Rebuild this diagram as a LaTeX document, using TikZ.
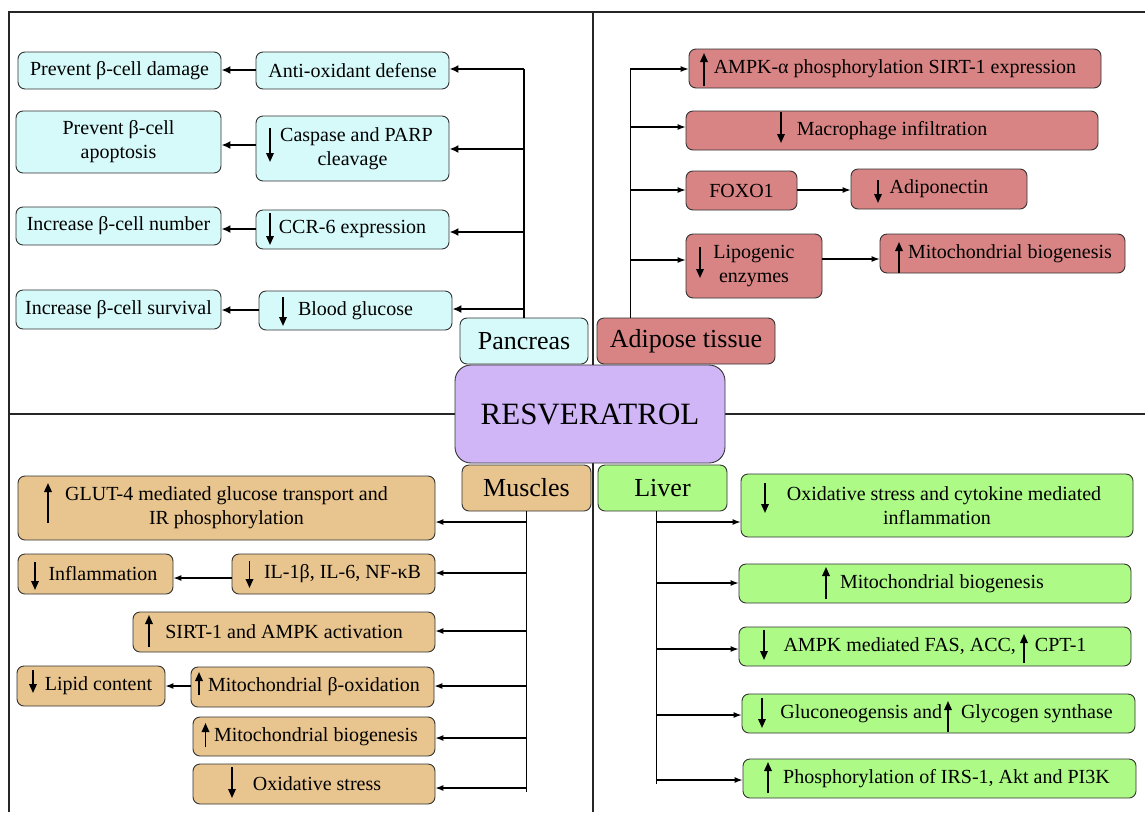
\documentclass[tikz,border=0pt]{standalone}
\usepackage{fontspec}
\setmainfont{Liberation Serif}
\usetikzlibrary{arrows.meta,calc}
\definecolor{cyanf}{RGB}{214,250,250}
\definecolor{adipf}{RGB}{217,132,132}
\definecolor{resvf}{RGB}{208,182,247}
\definecolor{musf}{RGB}{232,196,142}
\definecolor{livf}{RGB}{173,250,135}
\definecolor{edgec}{RGB}{50,50,50}
\tikzset{
  box/.style={draw=edgec, line width=0.9pt, rounded corners=7pt, inner sep=0pt,
    font=\fontsize{20}{24}\selectfont, align=center, text=black},
  pbox/.style={box, fill=cyanf},
  abox/.style={box, fill=adipf},
  mbox/.style={box, fill=musf},
  lbox/.style={box, fill=livf},
  lbl/.style={font=\fontsize{26}{30}\selectfont, rounded corners=7pt},
  icon/.style={line width=1.7pt, -{Triangle[length=9pt,width=7.5pt]}},
  pline/.style={line width=2pt},
  pconn/.style={line width=2pt, -{Latex[length=9pt,width=8pt]}},
  cline/.style={line width=1.1pt},
  conn/.style={line width=1.1pt, -{Latex[length=8pt,width=6pt]}},
  frame/.style={line width=1.6pt, draw=black!85},
}
\begin{document}
\begin{tikzpicture}[x=1pt,y=-1pt]
\useasboundingbox (0,0) rectangle (1145,812);
% frame
\draw[frame] (9,812) -- (9,12) -- (1145,12);
\draw[frame] (593,12) -- (593,812);
\draw[frame] (9,414) -- (1145,414);

% central nodes
\node[box, fill=resvf, rounded corners=16pt, font=\fontsize{31}{36}\selectfont, minimum width=270pt, minimum height=98pt] (resv) at (590,414) {RESVERATROL};
\node[pbox, lbl, minimum width=128pt, minimum height=46pt] (pan) at (524,341) {Pancreas};
\node[abox, lbl, minimum width=178pt, minimum height=46pt] (adip) at (686,341) {Adipose tissue};
\node[mbox, lbl, minimum width=129pt, minimum height=46pt] (mus) at (526.5,488) {Muscles};
\node[lbox, lbl, minimum width=129pt, minimum height=46pt] (liv) at (662.5,488) {Liver};

% pancreas
\node[pbox, minimum width=203pt, minimum height=37pt] (prevdmg) at (119.5,70.5) {Prevent β-cell damage};
\node[pbox, minimum width=193pt, minimum height=37pt] (antiox) at (352.5,70.5) {Anti-oxidant defense};
\node[pbox, minimum width=205pt, minimum height=62pt] (apop) at (118.5,142) {Prevent β-cell\\apoptosis};
\node[pbox, minimum width=193pt, minimum height=65pt] (casp) at (352.5,148.5) {\hspace*{8pt}Caspase and PARP\\cleavage};
\node[pbox, minimum width=205pt, minimum height=38pt] (number) at (118.5,226) {Increase β-cell number};
\node[pbox, minimum width=193pt, minimum height=39pt] (ccr) at (352.5,229.5) {CCR-6 expression};
\node[pbox, minimum width=205pt, minimum height=39pt] (survival) at (118.5,309.5) {Increase β-cell survival};
\node[pbox, minimum width=193pt, minimum height=39pt] (blood) at (355.5,310.5) {Blood glucose};

\draw[pline] (pan.north) -- (pan.north |- 0,69);
\draw[pconn] (pan.north |- 0,69) -- (antiox.east |- 0,69);
\draw[pconn] (pan.north |- 0,149) -- (casp.east |- 0,149);
\draw[pconn] (pan.north |- 0,232) -- (ccr.east |- 0,232);
\draw[pconn] (pan.north |- 0,309) -- (blood.east |- 0,309);
\draw[pconn] (antiox.west |- 0,70) -- (prevdmg.east |- 0,70);
\draw[pconn] (casp.west |- 0,145) -- (apop.east |- 0,145);
\draw[pconn] (ccr.west |- 0,229) -- (number.east |- 0,229);
\draw[pconn] (blood.west |- 0,310) -- (survival.east |- 0,310);

\draw[icon] (270,128) -- (270,162);
\draw[icon] (270,213) -- (270,245);
\draw[icon] (283,297) -- (283,326);

% adipose
\node[abox, minimum width=412pt, minimum height=39pt] (ampk) at (895,68.5) {AMPK-α phosphorylation SIRT-1 expression};
\node[abox, minimum width=412pt, minimum height=39pt] (macro) at (892,130.5) {Macrophage infiltration};
\node[abox, minimum width=111pt, minimum height=39pt] (foxo) at (741.5,190.5) {FOXO1};
\node[abox, minimum width=176pt, minimum height=40pt] (adipo) at (939,189) {Adiponectin};
\node[abox, minimum width=136pt, minimum height=64pt] (lipo) at (754,266) {Lipogenic\\enzymes};
\node[abox, minimum width=245pt, minimum height=39pt] (amito) at (1002.5,253.5) {\hspace*{15pt}Mitochondrial biogenesis};

\coordinate (at) at ($(adip.north west)+(34,0)$);
\draw[cline] (at) -- (at |- 0,68);
\draw[conn] (at |- 0,69) -- (ampk.west |- 0,69);
\draw[conn] (at |- 0,127) -- (macro.west |- 0,127);
\draw[conn] (at |- 0,190) -- (foxo.west |- 0,190);
\draw[conn] (at |- 0,260) -- (lipo.west |- 0,260);
\draw[conn] (foxo.east |- 0,190) -- (adipo.west |- 0,190);
\draw[conn] (lipo.east |- 0,259) -- (amito.west |- 0,259);

\draw[icon] (704,86) -- (704,53);
\draw[icon] (781,112) -- (781,143);
\draw[icon] (878,180) -- (878,203);
\draw[icon] (700,247) -- (700,278);
\draw[icon] (899,273) -- (899,242);

% muscles
\node[mbox, minimum width=417pt, minimum height=64pt] (glut) at (226.5,508) {GLUT-4 mediated glucose transport and\\IR phosphorylation};
\node[mbox, minimum width=155pt, minimum height=40pt] (infl) at (95.5,574) {\hspace*{15pt}Inflammation};
\node[mbox, minimum width=203pt, minimum height=40pt] (il) at (333.5,574) {\hspace*{18pt}IL-1β, IL-6, NF-κB};
\node[mbox, minimum width=302pt, minimum height=40pt] (sirt) at (284,632) {SIRT-1 and AMPK activation};
\node[mbox, minimum width=148pt, minimum height=40pt] (lipid) at (91,686) {\hspace*{15pt}Lipid content};
\node[mbox, minimum width=243pt, minimum height=40pt] (box) at (312.5,687) {\hspace*{3pt}Mitochondrial β-oxidation};
\node[mbox, minimum width=242pt, minimum height=39pt] (mmito) at (314,736.5) {\hspace*{4pt}Mitochondrial biogenesis};
\node[mbox, minimum width=242pt, minimum height=40pt] (moxs) at (314,784) {\hspace*{6pt}Oxidative stress};

\draw[cline] (mus.south) -- (mus.south |- 0,792);
\draw[conn] (mus.south |- 0,522) -- (glut.east |- 0,522);
\draw[conn] (mus.south |- 0,573) -- (il.east |- 0,573);
\draw[conn] (mus.south |- 0,631) -- (sirt.east |- 0,631);
\draw[conn] (mus.south |- 0,686) -- (box.east |- 0,686);
\draw[conn] (mus.south |- 0,738) -- (mmito.east |- 0,738);
\draw[conn] (mus.south |- 0,788) -- (moxs.east |- 0,788);
\draw[conn] (il.west |- 0,578) -- (infl.east |- 0,578);
\draw[conn] (box.west |- 0,686) -- (lipid.east |- 0,686);

\draw[icon] (48,523) -- (48,483);
\draw[icon] (35,562) -- (35,590);
\draw[icon] (249.5,561) -- (249.5,588);
\draw[icon] (149,647) -- (149,615);
\draw[icon] (33,670) -- (33,693);
\draw[icon] (199,695) -- (199,672);
\draw[icon] (205.5,747) -- (205.5,723);
\draw[icon] (232,767) -- (232,798);

% liver
\node[lbox, minimum width=392pt, minimum height=63pt] (loxs) at (937,505.5) {\hspace*{14pt}Oxidative stress and cytokine mediated\\inflammation};
\node[lbox, minimum width=392pt, minimum height=39pt] (lmito) at (935,583.5) {\hspace*{14pt}Mitochondrial biogenesis};
\node[lbox, minimum width=392pt, minimum height=39pt] (lampk) at (935,646.5) {AMPK mediated FAS, ACC,\hspace*{19pt}CPT-1};
\node[lbox, minimum width=393pt, minimum height=39pt] (lglu) at (938.5,713.5) {\hspace*{16pt}Gluconeogensis and\hspace*{19pt}Glycogen synthase};
\node[lbox, minimum width=393pt, minimum height=39pt] (lphos) at (939.5,778.5) {\hspace*{14pt}Phosphorylation of IRS-1, Akt and PI3K};

\coordinate (lt) at ($(liv.south)+(-6,0)$);
\draw[cline] (lt) -- (lt |- 0,784);
\draw[conn] (lt |- 0,522) -- (loxs.west |- 0,522);
\draw[conn] (lt |- 0,583) -- (lmito.west |- 0,583);
\draw[conn] (lt |- 0,649) -- (lampk.west |- 0,649);
\draw[conn] (lt |- 0,715) -- (lglu.west |- 0,715);
\draw[conn] (lt |- 0,780) -- (lphos.west |- 0,780);

\draw[icon] (765,483) -- (765,513);
\draw[icon] (826,599) -- (826,567);
\draw[icon] (764,630) -- (764,660);
\draw[icon] (1024,663) -- (1024,634);
\draw[icon] (762,698) -- (762,728);
\draw[icon] (948,732) -- (948,701);
\draw[icon] (768,793) -- (768,762);
\end{tikzpicture}
\end{document}
